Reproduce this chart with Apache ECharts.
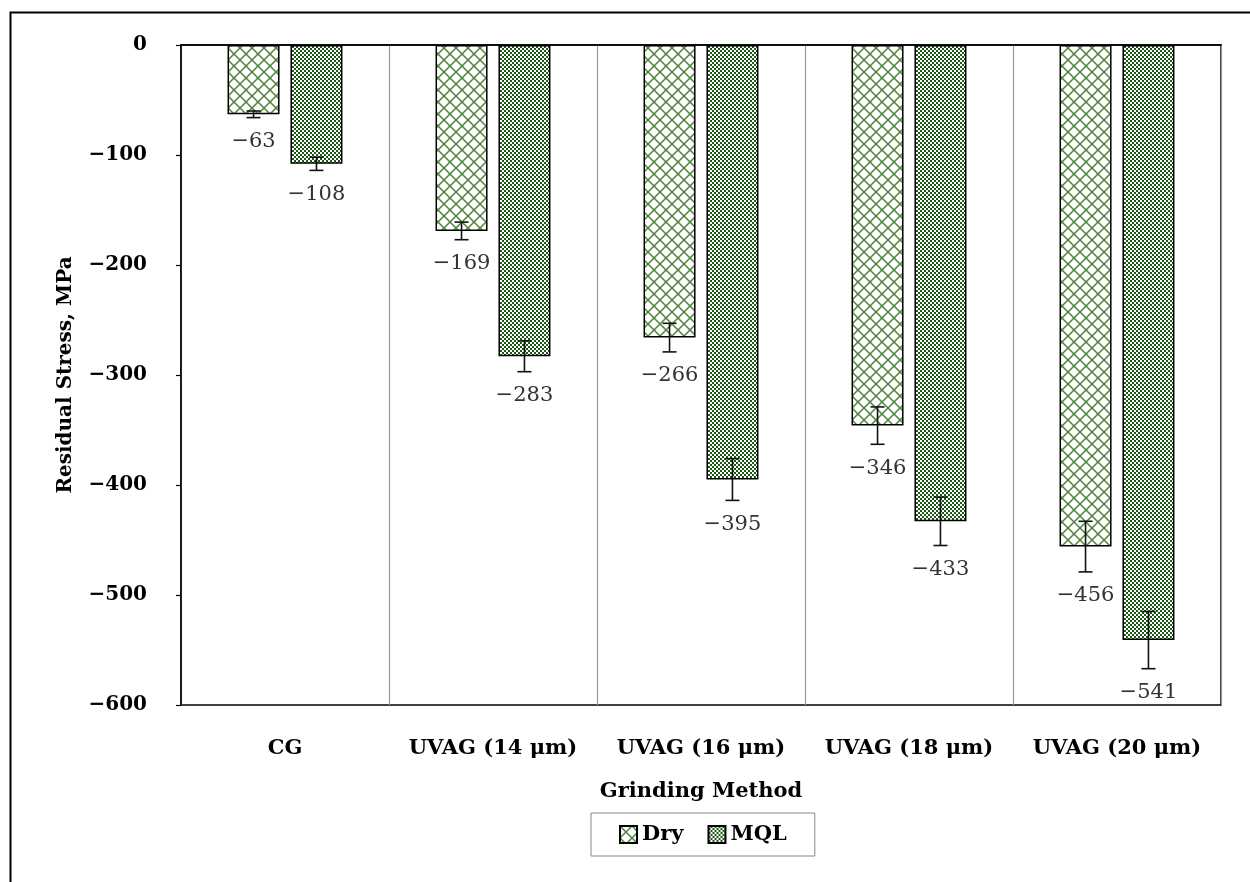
<!DOCTYPE html>
<html>
<head>
<meta charset="utf-8">
<script src="https://cdn.jsdelivr.net/npm/echarts@6/dist/echarts.min.js"></script>
<style>
  html, body { margin: 0; padding: 0; background: #fff; }
  #chart { width: 1250px; height: 882px; }
</style>
</head>
<body>
<div id="chart"></div>
<script>
// Residual stress by grinding method, dry vs. MQL
const categories = ['CG', 'UVAG (14 μm)', 'UVAG (16 μm)', 'UVAG (18 μm)', 'UVAG (20 μm)'];
const dryValues = [-63, -169, -266, -346, -456];
const mqlValues = [-108, -283, -395, -433, -541];
const dryErrors = [3, 8, 13, 17, 23];
const mqlErrors = [6, 14, 19, 22, 26];
const yMin = -600;
const yMax = 0;
const yStep = 100;

const FONT = '"DejaVu Serif", "Liberation Serif", serif';
const BAR_FRAC = 0.25;   // bar width as a share of the category band
const GAP_FRAC = 0.21;   // gap between the two bars, as a share of bar width

function minusLabel(v) {
  return v < 0 ? '\u2212' + Math.abs(v) : String(v);
}

// Diagonal cross-hatch fill (green lines on white)
function crossHatch() {
  const s = 12;
  const c = document.createElement('canvas');
  c.width = s; c.height = s;
  const g = c.getContext('2d');
  g.fillStyle = '#ffffff';
  g.fillRect(0, 0, s, s);
  g.strokeStyle = '#4c833b';
  g.lineWidth = 1.5;
  g.beginPath();
  g.moveTo(0, 0); g.lineTo(s, s);
  g.moveTo(s, 0); g.lineTo(0, s);
  g.stroke();
  return c;
}

// Small checkerboard fill (dark green / white)
function checker() {
  const c = document.createElement('canvas');
  c.width = 4; c.height = 4;
  const g = c.getContext('2d');
  g.fillStyle = '#1d5716';
  g.fillRect(0, 0, 4, 4);
  g.fillStyle = '#ffffff';
  g.fillRect(0, 0, 2, 2);
  g.fillRect(2, 2, 2, 2);
  return c;
}

const dryFill = { image: crossHatch(), repeat: 'repeat' };
const mqlFill = { image: checker(), repeat: 'repeat' };

// Error bar with value label beneath, placed beside the category centre
function errorRenderer(side) {
  return function (params, api) {
    const i = api.value(0);
    const v = api.value(1);
    const e = api.value(2);
    const band = api.size([1, 0])[0];
    const off = side * band * BAR_FRAC * (1 + GAP_FRAC) / 2;
    const hi = api.coord([i, v + e]);
    const lo = api.coord([i, v - e]);
    const x = hi[0] + off;
    const cap = 7;
    const st = { stroke: '#111', lineWidth: 1.6 };
    return {
      type: 'group',
      children: [
        { type: 'line', shape: { x1: x, y1: hi[1], x2: x, y2: lo[1] }, style: st },
        { type: 'line', shape: { x1: x - cap, y1: hi[1], x2: x + cap, y2: hi[1] }, style: st },
        { type: 'line', shape: { x1: x - cap, y1: lo[1], x2: x + cap, y2: lo[1] }, style: st },
        {
          type: 'text',
          style: {
            text: minusLabel(v),
            x: x,
            y: lo[1] + 24,
            align: 'center',
            verticalAlign: 'middle',
            font: '21px ' + FONT,
            fill: '#333'
          }
        }
      ]
    };
  };
}

const chart = echarts.init(document.getElementById('chart'), null, { renderer: 'canvas' });

chart.setOption({
  backgroundColor: '#ffffff',
  animation: false,
  graphic: [{
    type: 'rect',
    left: 8, top: 10,
    shape: { width: 1260, height: 900 },
    style: { fill: 'none', stroke: '#000', lineWidth: 2 },
    z: 100
  }],
  grid: {
    left: 181, right: 29, top: 45, bottom: 177,
    show: true,
    borderColor: '#000',
    borderWidth: 1.5,
    backgroundColor: 'transparent'
  },
  legend: {
    data: ['Dry', 'MQL'],
    icon: 'rect',
    left: 591,
    top: 813,
    padding: [11, 28, 11, 28],
    borderColor: '#888',
    borderWidth: 1,
    itemWidth: 17,
    itemHeight: 17,
    itemGap: 24,
    textStyle: { fontFamily: FONT, fontWeight: 'bold', fontSize: 21, color: '#000' }
  },
  xAxis: {
    type: 'category',
    data: categories,
    name: 'Grinding Method',
    nameLocation: 'middle',
    nameGap: 76,
    nameTextStyle: { fontFamily: FONT, fontWeight: 'bold', fontSize: 21, color: '#000' },
    axisLine: { show: true, lineStyle: { color: '#000', width: 1.5 } },
    axisTick: { show: false },
    axisLabel: { interval: 0, margin: 33, fontFamily: FONT, fontWeight: 'bold', fontSize: 21, color: '#000' },
    splitLine: { show: true, interval: 0, lineStyle: { color: '#999', width: 1.2 } }
  },
  yAxis: {
    type: 'value',
    min: yMin,
    max: yMax,
    interval: yStep,
    name: 'Residual Stress, MPa',
    nameLocation: 'middle',
    nameGap: 105,
    nameTextStyle: { fontFamily: FONT, fontWeight: 'bold', fontSize: 20, color: '#000' },
    axisLine: { show: true, lineStyle: { color: '#000', width: 1.5 } },
    axisTick: { show: true, length: 5, lineStyle: { color: '#000', width: 1.2 } },
    axisLabel: {
      margin: 34,
      fontFamily: FONT, fontWeight: 'bold', fontSize: 20, color: '#000',
      formatter: minusLabel
    },
    splitLine: { show: false }
  },
  series: [
    {
      name: 'Dry',
      type: 'bar',
      data: dryValues,
      barWidth: (BAR_FRAC * 100) + '%',
      barGap: (GAP_FRAC * 100) + '%',
      itemStyle: { color: dryFill, borderColor: '#000', borderWidth: 1.5 }
    },
    {
      name: 'MQL',
      type: 'bar',
      data: mqlValues,
      barWidth: (BAR_FRAC * 100) + '%',
      barGap: (GAP_FRAC * 100) + '%',
      itemStyle: { color: mqlFill, borderColor: '#000', borderWidth: 1.5 }
    },
    {
      name: 'Dry error',
      type: 'custom',
      renderItem: errorRenderer(-1),
      data: dryValues.map((v, i) => [i, v, dryErrors[i]]),
      encode: { x: 0, y: 1 },
      z: 10
    },
    {
      name: 'MQL error',
      type: 'custom',
      renderItem: errorRenderer(1),
      data: mqlValues.map((v, i) => [i, v, mqlErrors[i]]),
      encode: { x: 0, y: 1 },
      z: 10
    }
  ]
});
</script>
</body>
</html>
